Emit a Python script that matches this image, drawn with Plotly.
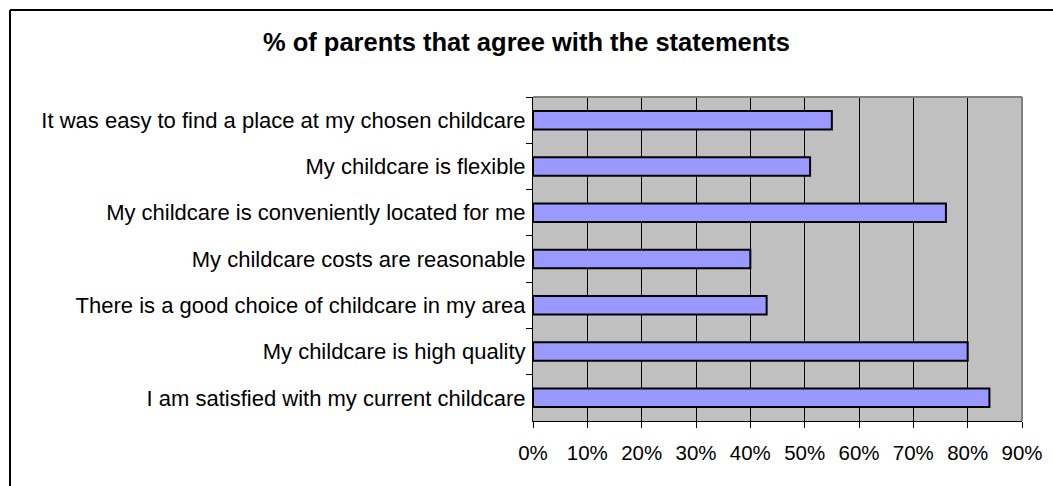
import plotly.graph_objects as go

# Survey statements, listed top to bottom
statements = [
    "It was easy to find a place at my chosen childcare",
    "My childcare is flexible",
    "My childcare is conveniently located for me",
    "My childcare costs are reasonable",
    "There is a good choice of childcare in my area",
    "My childcare is high quality",
    "I am satisfied with my current childcare",
]
agree_pct = [55, 51, 76, 40, 43, 80, 84]
x_ticks = [0, 10, 20, 30, 40, 50, 60, 70, 80, 90]
x_tick_labels = ["0%", "10%", "20%", "30%", "40%", "50%", "60%", "70%", "80%", "90%"]

W, H = 1053, 486
M_L, M_R, M_T, M_B = 533, 31, 97, 65
plot_w = W - M_L - M_R
plot_h = H - M_T - M_B

FONT = "Liberation Sans, Arial, sans-serif"

fig = go.Figure(
    go.Bar(
        x=agree_pct,
        y=statements,
        orientation="h",
        marker=dict(color="#9999FF", line=dict(color="#000000", width=2)),
        hoverinfo="x+y",
    )
)


def px_to_paper_x(px):
    return (px - M_L) / plot_w


def px_to_paper_y(py):
    return (H - M_B - py) / plot_h


shapes = [
    # outer chart frame (extends past right and bottom edges)
    dict(type="line", xref="paper", yref="paper",
         x0=px_to_paper_x(10), x1=px_to_paper_x(W + 20),
         y0=px_to_paper_y(10), y1=px_to_paper_y(10),
         line=dict(color="#000000", width=2)),
    dict(type="line", xref="paper", yref="paper",
         x0=px_to_paper_x(10), x1=px_to_paper_x(10),
         y0=px_to_paper_y(10), y1=px_to_paper_y(H + 20),
         line=dict(color="#000000", width=2)),
    # grey top and right edges of the plot area
    dict(type="line", xref="paper", yref="paper",
         x0=0, x1=1, y0=1, y1=1, line=dict(color="#808080", width=2)),
    dict(type="line", xref="paper", yref="paper",
         x0=1, x1=1, y0=0, y1=1, line=dict(color="#808080", width=2)),
]

fig.update_layout(
    width=W,
    height=H,
    margin=dict(l=M_L, r=M_R, t=M_T, b=M_B, pad=0, autoexpand=False),
    paper_bgcolor="#FFFFFF",
    plot_bgcolor="#C0C0C0",
    font=dict(family=FONT, size=22, color="#000000"),
    title=dict(
        text="<b>% of parents that agree with the statements</b>",
        font=dict(family=FONT, size=25.5, color="#000000"),
        x=0.5, xref="container", xanchor="center",
        y=1 - 42 / H, yref="container", yanchor="middle",
    ),
    bargap=0.6,
    showlegend=False,
    shapes=shapes,
)

fig.update_xaxes(
    range=[0, 90],
    tickmode="array",
    tickvals=x_ticks,
    ticktext=x_tick_labels,
    automargin=False,
    showgrid=True,
    gridcolor="#000000",
    gridwidth=1,
    zeroline=False,
    showline=True,
    linecolor="#000000",
    linewidth=1,
    ticks="outside",
    ticklen=6,
    tickcolor="#000000",
    ticklabelstandoff=7,
    tickfont=dict(family=FONT, size=20.5),
)

fig.update_yaxes(
    type="category",
    autorange="reversed",
    automargin=False,
    showgrid=False,
    zeroline=False,
    showline=True,
    linecolor="#000000",
    linewidth=1,
    ticks="outside",
    tickson="boundaries",
    ticklen=6,
    tickcolor="#000000",
    ticklabelstandoff=2,
    tickfont=dict(family=FONT, size=22),
)

fig.write_html("out.html")
